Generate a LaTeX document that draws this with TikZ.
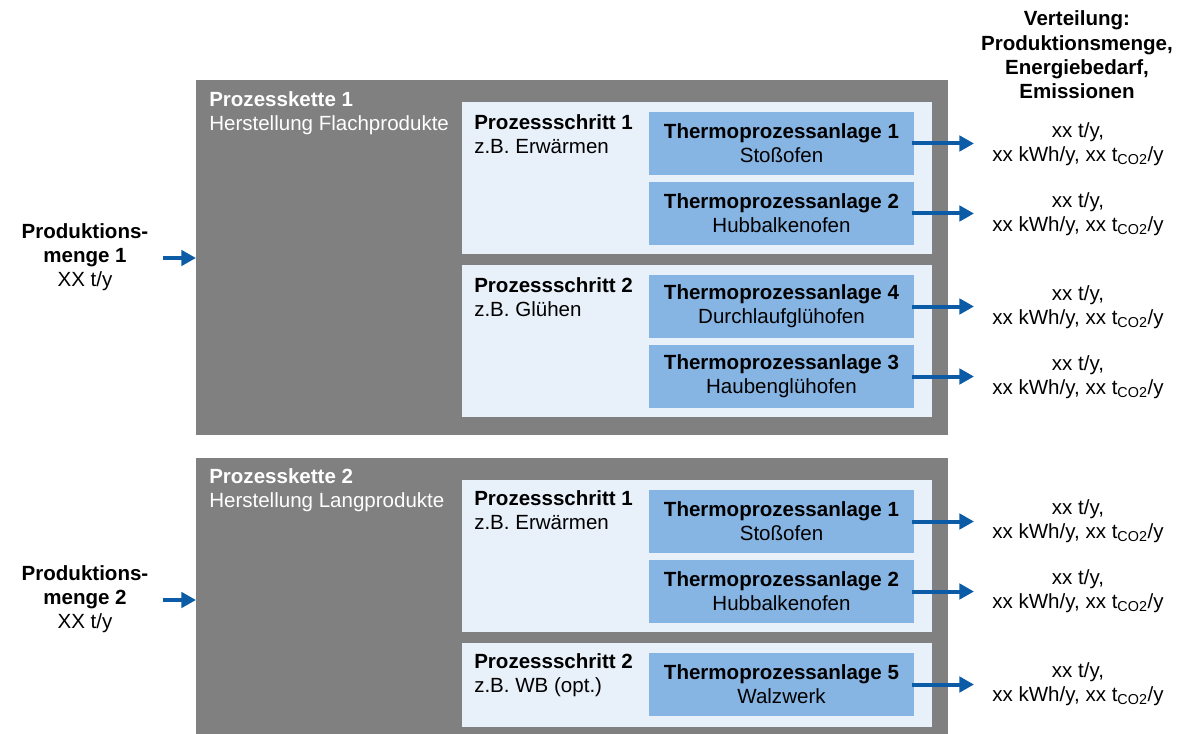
\documentclass[tikz,border=0pt]{standalone}
\usepackage{fontspec}
\setmainfont{Liberation Sans}
\usetikzlibrary{arrows.meta}
\definecolor{chaingray}{HTML}{808080}
\definecolor{steplight}{HTML}{E8F0F9}
\definecolor{plantblue}{HTML}{86B4E3}
\definecolor{arrowblue}{HTML}{0B5BA6}
\tikzset{
  basefont/.style={font=\fontsize{15.4pt}{18.2pt}\selectfont},
  chainbox/.style={fill=chaingray, draw=none, inner sep=0pt, outer sep=0pt, anchor=north west, minimum width=564pt},
  stepbox/.style={fill=steplight, draw=none, inner sep=0pt, outer sep=0pt, anchor=north west, minimum width=352.5pt},
  plantbox/.style={fill=plantblue, draw=none, inner sep=0pt, outer sep=0pt, anchor=north west,
     minimum width=198.75pt, minimum height=47.25pt, align=center, basefont},
  chaintext/.style={text=white, inner sep=0pt, anchor=west, align=left, basefont},
  steptext/.style={text=black, inner sep=0pt, anchor=west, align=left, basefont},
  outtext/.style={text=black, inner sep=0pt, align=center, basefont},
  arr/.style={draw=arrowblue, line width=3pt, -{Triangle[length=11pt,width=11.5pt]}},
}
\newcommand{\outlbl}{xx t/y,\\xx kWh/y, xx t\textsubscript{CO2}/y}
\begin{document}
\begin{tikzpicture}[x=0.75pt,y=-0.75pt]
\useasboundingbox (0,0) rectangle (1199,734);
% --- Prozesskette 1
\node[chainbox, minimum height=266.25pt] (k1) at (196,80) {};
\node[chaintext] (k1t) at (209,113) {\textbf{Prozesskette 1}\\Herstellung Flachprodukte};
\node[stepbox, minimum height=114pt] (s11) at (462,102) {};
\node[steptext] (s11t) at (474,134) {\textbf{Prozessschritt 1}\\z.B. Erwärmen};
\node[stepbox, minimum height=114pt] (s12) at (462,265) {};
\node[steptext] (s12t) at (474,297) {\textbf{Prozessschritt 2}\\z.B. Glühen};
\node[plantbox] (t11) at (649,112) {\textbf{Thermoprozessanlage 1}\\Stoßofen};
\node[plantbox] (t12) at (649,182) {\textbf{Thermoprozessanlage 2}\\Hubbalkenofen};
\node[plantbox] (t14) at (649,275) {\textbf{Thermoprozessanlage 4}\\Durchlaufglühofen};
\node[plantbox] (t13) at (649,345) {\textbf{Thermoprozessanlage 3}\\Haubenglühofen};
% --- Prozesskette 2
\node[chainbox, minimum height=207pt] (k2) at (196,458) {};
\node[chaintext] (k2t) at (209,490) {\textbf{Prozesskette 2}\\Herstellung Langprodukte};
\node[stepbox, minimum height=114pt] (s21) at (462,480) {};
\node[steptext] (s21t) at (474,510) {\textbf{Prozessschritt 1}\\z.B. Erwärmen};
\node[stepbox, minimum height=63pt] (s22) at (462,643) {};
\node[steptext] (s22t) at (474,675) {\textbf{Prozessschritt 2}\\z.B. WB (opt.)};
\node[plantbox] (t21) at (649,490) {\textbf{Thermoprozessanlage 1}\\Stoßofen};
\node[plantbox] (t22) at (649,560) {\textbf{Thermoprozessanlage 2}\\Hubbalkenofen};
\node[plantbox] (t25) at (649,653) {\textbf{Thermoprozessanlage 5}\\Walzwerk};
% --- inputs
\node[outtext] (p1) at (85,257) {\textbf{Produktions-}\\\textbf{menge 1}\\XX t/y};
\node[outtext] (p2) at (85,599) {\textbf{Produktions-}\\\textbf{menge 2}\\XX t/y};
\coordinate (i1) at (163,258);
\coordinate (i2) at (163,600);
\draw[arr] (i1) -- (k1.west |- i1);
\draw[arr] (i2) -- (k2.west |- i2);
% --- header
\node[outtext] (hd) at (1077,55) {\textbf{Verteilung:}\\\textbf{Produktionsmenge,}\\\textbf{Energiebedarf,}\\\textbf{Emissionen}};
% --- outputs
\foreach \n/\y in {t11/144, t12/214, t14/307, t13/377, t21/521, t22/591, t25/684}{
  \node[outtext] (o\n) at (1078,\y) {\outlbl};
  \coordinate (e\n) at (974,\y);
  \draw[arr] ([xshift=-1.5pt]\n.east) -- (\n.east -| e\n);
}
\end{tikzpicture}
\end{document}
